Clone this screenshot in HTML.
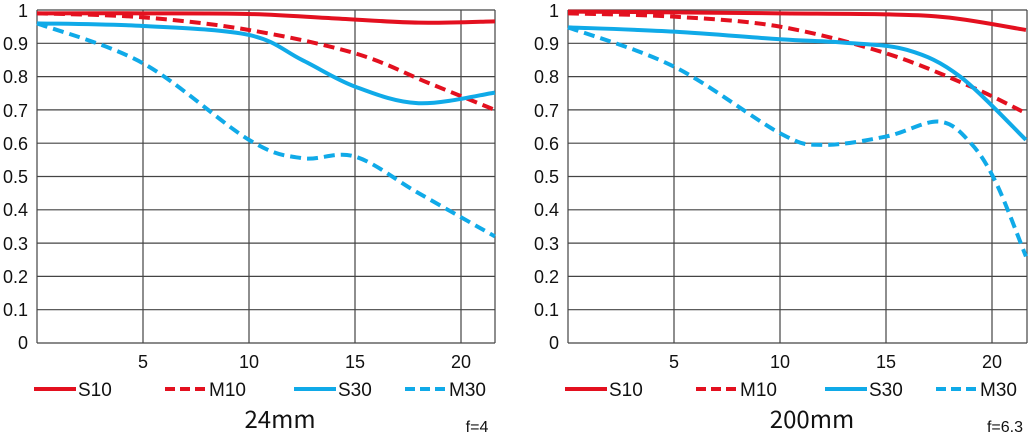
<!DOCTYPE html>
<html><head><meta charset="utf-8"><style>
body{margin:0;background:#fff;width:1030px;height:436px;overflow:hidden}
text{font-family:"Liberation Sans",sans-serif;fill:#111}
</style></head><body>
<svg id="s" width="1030" height="436" xmlns="http://www.w3.org/2000/svg">
<g id="g"></g>
<g font-size="18" text-anchor="end">
<text x="28" y="17">1</text><text x="28" y="50">0.9</text><text x="28" y="83">0.8</text><text x="28" y="117">0.7</text><text x="28" y="150">0.6</text><text x="28" y="183">0.5</text><text x="28" y="216">0.4</text><text x="28" y="250">0.3</text><text x="28" y="283">0.2</text><text x="28" y="316">0.1</text><text x="28" y="349">0</text>
<text x="559" y="17">1</text><text x="559" y="50">0.9</text><text x="559" y="83">0.8</text><text x="559" y="117">0.7</text><text x="559" y="150">0.6</text><text x="559" y="183">0.5</text><text x="559" y="216">0.4</text><text x="559" y="250">0.3</text><text x="559" y="283">0.2</text><text x="559" y="316">0.1</text><text x="559" y="349">0</text>
</g>
<g font-size="18" text-anchor="middle">
<text x="143" y="368">5</text><text x="249" y="368">10</text><text x="355" y="368">15</text><text x="461" y="368">20</text>
<text x="674" y="368">5</text><text x="780" y="368">10</text><text x="886" y="368">15</text><text x="992" y="368">20</text>
</g>
<g stroke-width="4" fill="none">
<line x1="34" y1="389" x2="76" y2="389" stroke="#e3101f"/>
<line x1="165" y1="389" x2="207" y2="389" stroke="#e3101f" stroke-dasharray="10,5"/>
<line x1="294" y1="389" x2="336" y2="389" stroke="#10aae8"/>
<line x1="405" y1="389" x2="447" y2="389" stroke="#10aae8" stroke-dasharray="10,5"/>
<line x1="565" y1="389" x2="607" y2="389" stroke="#e3101f"/>
<line x1="696" y1="389" x2="738" y2="389" stroke="#e3101f" stroke-dasharray="10,5"/>
<line x1="825" y1="389" x2="867" y2="389" stroke="#10aae8"/>
<line x1="936" y1="389" x2="978" y2="389" stroke="#10aae8" stroke-dasharray="10,5"/>
</g>
<g font-size="19">
<text x="78" y="396">S10</text><text x="209" y="396">M10</text><text x="338" y="396">S30</text><text x="449" y="396">M30</text>
<text x="609" y="396">S10</text><text x="740" y="396">M10</text><text x="869" y="396">S30</text><text x="980" y="396">M30</text>
</g>
<text x="280" y="428" font-size="24" text-anchor="middle" style="font-family:'Noto Sans CJK JP',sans-serif">24mm</text>
<text x="812" y="428" font-size="24" text-anchor="middle" style="font-family:'Noto Sans CJK JP',sans-serif">200mm</text>
<text x="477" y="432" font-size="16" text-anchor="middle">f=4</text>
<text x="1005" y="432" font-size="16" text-anchor="middle">f=6.3</text>
</svg>
<script>
var g=document.getElementById('g'),NS='http://www.w3.org/2000/svg';
function el(t,a){var e=document.createElementNS(NS,t);for(var k in a)e.setAttribute(k,a[k]);g.appendChild(e);}
function Y(m){return 343-m*333;}
function grid(x0,x1){
 for(var i=0;i<=10;i++)el('line',{x1:x0,x2:x1,y1:Y(i/10),y2:Y(i/10),stroke:'#444','stroke-width':1.2});
 for(var v=5;v<=20;v+=5)el('line',{x1:x0+v*21.2,x2:x0+v*21.2,y1:Y(1),y2:343,stroke:'#444','stroke-width':1.2});
 el('line',{x1:x0,x2:x0,y1:Y(1),y2:343,stroke:'#444','stroke-width':1.2});
 el('line',{x1:x1,x2:x1,y1:Y(1),y2:343,stroke:'#444','stroke-width':1.2});
}
function curve(x0,pts,col,dash){
 var P=pts.map(function(p){return[x0+p[0]*21.2,Y(p[1])];});
 var d='M'+P[0][0]+','+P[0][1];
 for(var i=0;i<P.length-1;i++){var p0=P[i-1]||P[i],p1=P[i],p2=P[i+1],p3=P[i+2]||p2;
  d+='C'+(p1[0]+(p2[0]-p0[0])/6)+','+(p1[1]+(p2[1]-p0[1])/6)+' '+(p2[0]-(p3[0]-p1[0])/6)+','+(p2[1]-(p3[1]-p1[1])/6)+' '+p2[0]+','+p2[1];}
 var a={d:d,stroke:col,'stroke-width':4,fill:'none'};if(dash)a['stroke-dasharray']='11,6';el('path',a);
}
grid(37,495);grid(568,1027);
var R='#e3101f',B='#10aae8';
curve(37,[[0,.99],[5,.99],[10,.988],[14,.975],[18,.962],[21.6,.966]],R);
curve(37,[[0,.99],[5,.978],[10,.94],[15,.87],[18.5,.78],[21.6,.70]],R,1);
curve(37,[[0,.96],[5,.952],[10,.925],[12.5,.85],[15,.77],[18,.72],[21.6,.752]],B);
curve(37,[[0,.96],[5,.84],[10,.61],[12.5,.555],[15,.56],[18,.45],[21.6,.32]],B,1);
curve(568,[[0,.995],[5,.993],[10,.99],[15,.987],[18,.977],[21.6,.94]],R);
curve(568,[[0,.99],[5,.98],[10,.95],[15,.87],[19,.77],[21.6,.69]],R,1);
curve(568,[[0,.948],[5,.935],[10,.912],[13,.902],[16,.88],[18.5,.80],[21.6,.61]],B);
curve(568,[[0,.948],[5,.83],[10,.63],[12,.595],[15,.62],[17.5,.665],[19,.6],[20.2,.48],[21.6,.26]],B,1);
</script>
</body></html>
